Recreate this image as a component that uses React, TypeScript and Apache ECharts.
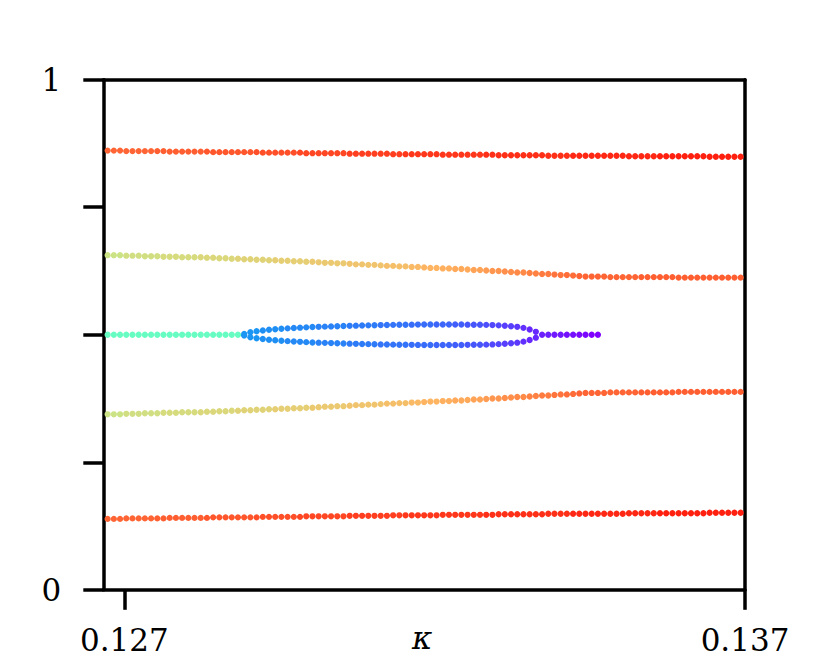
import React, { useEffect, useRef } from "react";
import * as echarts from "echarts";

// sampling grid of the parameter sweep (kappa)
const KAPPA_START = 0.12673;
const KAPPA_STEP = 0.0001;
const KAPPA_COUNT = 103;
const KAPPA: number[] = Array.from({ length: KAPPA_COUNT }, (_, i) =>
  +(KAPPA_START + KAPPA_STEP * i).toFixed(5)
);

const X_MIN = 0.12666;
const X_MAX = 0.137;
const X_TICKS = [0.127, 0.137];
const Y_LABELS = [0, 1];
const X_NAME = "κ";

// outer upper branch
const A_Y = [
  0.861, 0.861, 0.861,
  0.86, 0.86, 0.86, 0.86, 0.86, 0.86, 0.86,
  0.859, 0.859, 0.859, 0.859, 0.859, 0.859, 0.859,
  0.858, 0.858, 0.858, 0.858, 0.858, 0.858, 0.858, 0.858,
  0.857, 0.857, 0.857, 0.857, 0.857, 0.857, 0.857,
  0.856, 0.856, 0.856, 0.856, 0.856, 0.856, 0.856,
  0.855, 0.855, 0.855, 0.855, 0.855, 0.855, 0.855,
  0.854, 0.854, 0.854, 0.854, 0.854, 0.854, 0.854, 0.854,
  0.853, 0.853, 0.853, 0.853, 0.853, 0.853, 0.853, 0.853, 0.853,
  0.852, 0.852, 0.852, 0.852, 0.852, 0.852, 0.852, 0.852,
  0.851, 0.851, 0.851, 0.851, 0.851, 0.851, 0.851, 0.851, 0.851, 0.851, 0.851, 0.851, 0.851,
  0.85, 0.85, 0.85, 0.85, 0.85, 0.85, 0.85, 0.85, 0.85, 0.85, 0.85, 0.85, 0.85,
  0.849, 0.849, 0.849, 0.849, 0.849, 0.849,
];
// outer lower branch
const E_Y = [
  0.139, 0.139, 0.139,
  0.14, 0.14, 0.14, 0.14, 0.14, 0.14, 0.14,
  0.141, 0.141, 0.141, 0.141, 0.141, 0.141, 0.141,
  0.142, 0.142, 0.142, 0.142, 0.142, 0.142, 0.142, 0.142,
  0.143, 0.143, 0.143, 0.143, 0.143, 0.143, 0.143,
  0.144, 0.144, 0.144, 0.144, 0.144, 0.144, 0.144,
  0.145, 0.145, 0.145, 0.145, 0.145, 0.145, 0.145,
  0.146, 0.146, 0.146, 0.146, 0.146, 0.146, 0.146, 0.146,
  0.147, 0.147, 0.147, 0.147, 0.147, 0.147, 0.147, 0.147, 0.147,
  0.148, 0.148, 0.148, 0.148, 0.148, 0.148, 0.148, 0.148,
  0.149, 0.149, 0.149, 0.149, 0.149, 0.149, 0.149, 0.149, 0.149, 0.149, 0.149, 0.149, 0.149,
  0.15, 0.15, 0.15, 0.15, 0.15, 0.15, 0.15, 0.15, 0.15, 0.15, 0.15, 0.15, 0.15,
  0.151, 0.151, 0.151, 0.151, 0.151, 0.151,
];
// colour value of the outer branches
const OUTER_C = [
  0.87, 0.87, 0.87, 0.87, 0.87, 0.87, 0.87, 0.87,
  0.88, 0.88, 0.88, 0.88, 0.88, 0.88, 0.88, 0.88,
  0.89, 0.89, 0.89, 0.89, 0.89, 0.89, 0.89, 0.89,
  0.9, 0.9, 0.9, 0.9, 0.9, 0.9, 0.9,
  0.91, 0.91, 0.91, 0.91, 0.91, 0.91, 0.91, 0.91,
  0.92, 0.92, 0.92, 0.92, 0.92, 0.92, 0.92, 0.92, 0.92,
  0.93, 0.93, 0.93, 0.93, 0.93, 0.93, 0.93, 0.93, 0.93, 0.93, 0.93, 0.93, 0.93,
  0.94, 0.94, 0.94, 0.94, 0.94, 0.94, 0.94, 0.94, 0.94, 0.94, 0.94, 0.94, 0.94, 0.94,
  0.95, 0.95, 0.95, 0.95, 0.95, 0.95, 0.95, 0.95, 0.95, 0.95, 0.95, 0.95, 0.95, 0.95,
  0.96, 0.96, 0.96, 0.96, 0.96, 0.96, 0.96, 0.96, 0.96, 0.96, 0.96, 0.96, 0.96, 0.96,
];

// inner upper branch
const B_Y = [
  0.656, 0.656, 0.656, 0.655, 0.655, 0.655, 0.654, 0.654, 0.654, 0.653, 0.653, 0.653, 0.652, 0.652, 0.652,
  0.652, 0.651, 0.651, 0.65, 0.65, 0.649, 0.649, 0.648, 0.648, 0.647, 0.647, 0.646, 0.646, 0.645, 0.645, 0.644,
  0.644, 0.643, 0.643, 0.642, 0.641, 0.641, 0.64, 0.64, 0.639, 0.638, 0.638, 0.637, 0.637, 0.636, 0.635, 0.635, 0.634,
  0.634, 0.633, 0.633, 0.632, 0.631, 0.631, 0.63, 0.63, 0.629, 0.629, 0.628, 0.627, 0.627,
  0.626, 0.625, 0.625, 0.624, 0.623, 0.622, 0.622, 0.621, 0.62, 0.619, 0.619, 0.618, 0.617, 0.617, 0.616, 0.615,
  0.614, 0.614, 0.614, 0.614, 0.613,
  0.613, 0.613, 0.613, 0.613, 0.613, 0.613, 0.613, 0.613, 0.613, 0.613,
  0.612, 0.612, 0.612, 0.612, 0.612, 0.612, 0.612, 0.612, 0.612, 0.612, 0.612,
];
// inner lower branch
const D_Y = [
  0.344, 0.344, 0.344, 0.345, 0.345, 0.345, 0.346, 0.346, 0.346, 0.347, 0.347, 0.347, 0.348, 0.348, 0.348,
  0.348, 0.349, 0.349, 0.35, 0.35, 0.351, 0.351, 0.352, 0.352, 0.353, 0.353, 0.354, 0.354, 0.355, 0.355, 0.356,
  0.356, 0.357, 0.357, 0.358, 0.359, 0.359, 0.36, 0.36, 0.361, 0.362, 0.362, 0.363, 0.363, 0.364, 0.365, 0.365, 0.366,
  0.366, 0.367, 0.367, 0.368, 0.369, 0.369, 0.37, 0.37, 0.371, 0.371, 0.372, 0.373, 0.373,
  0.374, 0.375, 0.375, 0.376, 0.377, 0.378, 0.378, 0.379, 0.38, 0.381, 0.381, 0.382, 0.383, 0.383, 0.384, 0.385,
  0.386, 0.386, 0.386, 0.386, 0.387,
  0.387, 0.387, 0.387, 0.387, 0.387, 0.387, 0.387, 0.387, 0.387, 0.387,
  0.388, 0.388, 0.388, 0.388, 0.388, 0.388, 0.388, 0.388, 0.388, 0.388, 0.388,
];
// colour value of the inner branches
const INNER_C = [
  0.65, 0.65, 0.65, 0.66, 0.66, 0.66, 0.66, 0.66, 0.66, 0.67, 0.67, 0.67, 0.67, 0.67, 0.67,
  0.68, 0.68, 0.68, 0.68, 0.68, 0.68, 0.69, 0.69, 0.69, 0.69, 0.69, 0.69, 0.7, 0.7, 0.7, 0.7, 0.7, 0.7,
  0.71, 0.71, 0.71, 0.71, 0.71, 0.71, 0.72, 0.72, 0.72, 0.72, 0.72, 0.72, 0.73, 0.73, 0.73,
  0.73, 0.74, 0.74, 0.75, 0.75, 0.75, 0.76, 0.76, 0.77, 0.77, 0.77, 0.78, 0.78,
  0.79, 0.8, 0.8, 0.81, 0.81, 0.82, 0.82, 0.83,
  0.83, 0.84, 0.84, 0.85, 0.85, 0.86, 0.86, 0.87,
  0.87, 0.87, 0.87, 0.87, 0.87, 0.87, 0.87, 0.87, 0.87,
  0.88, 0.88, 0.88, 0.88, 0.88, 0.88, 0.88, 0.88, 0.88, 0.88, 0.88, 0.88, 0.88, 0.88, 0.88, 0.88, 0.88,
];

// middle branch before the split (grid index 0..21)
const MID_START = 0;
const MID_Y = [
  0.5, 0.5, 0.5, 0.5, 0.5, 0.5, 0.5, 0.5, 0.5, 0.5, 0.5,
  0.5, 0.5, 0.5, 0.5, 0.5, 0.5, 0.5, 0.5, 0.5, 0.5, 0.5,
];
const MID_C = [
  0.45, 0.45, 0.45, 0.45, 0.45, 0.45, 0.45, 0.45, 0.45, 0.45, 0.45,
  0.45, 0.45, 0.45, 0.45, 0.45, 0.45, 0.45, 0.45, 0.45, 0.45, 0.45,
];

// closed loop (grid index 22..69)
const LOOP_START = 22;
const LOOP_UP_Y = [
  0.5016, 0.5049, 0.5069, 0.5084, 0.5098, 0.5108, 0.5118, 0.5125, 0.5133, 0.5139, 0.5145, 0.5151,
  0.5155, 0.5159, 0.5163, 0.5167, 0.5171, 0.5175, 0.5178, 0.5182, 0.5184, 0.5187, 0.519, 0.5192,
  0.5194, 0.5196, 0.5197, 0.5198, 0.5199, 0.52, 0.52, 0.5201, 0.5201, 0.5201, 0.52, 0.52,
  0.5198, 0.5197, 0.5196, 0.5194, 0.519, 0.5184, 0.5176, 0.5167, 0.5155, 0.5135, 0.5102, 0.5057,
];
const LOOP_LO_Y = [
  0.4984, 0.4951, 0.4931, 0.4916, 0.4902, 0.4892, 0.4882, 0.4875, 0.4867, 0.4861, 0.4855, 0.4849,
  0.4845, 0.4841, 0.4837, 0.4833, 0.4829, 0.4825, 0.4822, 0.4818, 0.4816, 0.4813, 0.481, 0.4808,
  0.4806, 0.4804, 0.4803, 0.4802, 0.4801, 0.48, 0.48, 0.4799, 0.4799, 0.4799, 0.48, 0.48,
  0.4802, 0.4803, 0.4804, 0.4806, 0.481, 0.4816, 0.4824, 0.4833, 0.4845, 0.4865, 0.4898, 0.4943,
];
const LOOP_C = [
  0.2, 0.2, 0.2, 0.19, 0.19, 0.19, 0.19, 0.18, 0.18, 0.18, 0.18, 0.18,
  0.17, 0.17, 0.17, 0.17, 0.17, 0.16, 0.16, 0.16, 0.16, 0.16, 0.15, 0.15,
  0.15, 0.15, 0.15, 0.14, 0.14, 0.14, 0.14, 0.13, 0.13, 0.13, 0.12, 0.12,
  0.11, 0.11, 0.11, 0.1, 0.09, 0.09, 0.08, 0.08, 0.07, 0.06, 0.05, 0.05,
];

// middle branch after the loop (grid index 70..79)
const TAIL_START = 70;
const TAIL_Y = [0.5, 0.5, 0.5, 0.5, 0.5, 0.5, 0.5, 0.5, 0.5, 0.5];
const TAIL_C = [0.04, 0.04, 0.03, 0.03, 0.02, 0.02, 0.01, 0.01, 0.0, 0.0];

// matplotlib "rainbow" colormap
function rainbow(c: number): string {
  const cl = (v: number) => Math.round(255 * Math.max(0, Math.min(1, v)));
  const r = Math.abs(2 * c - 0.5);
  const g = Math.sin(Math.PI * c);
  const b = Math.cos((Math.PI * c) / 2);
  return `rgb(${cl(r)},${cl(g)},${cl(b)})`;
}

function points(start: number, ys: number[], cs: number[]) {
  return ys.map((y, j) => [KAPPA[start + j], y, cs[j]]);
}

const FONT = "DejaVu Serif";
const LINE = { color: "#000", width: 3.5 };

export default function App() {
  const ref = useRef<HTMLDivElement>(null);
  useEffect(() => {
    if (!ref.current) return;
    const chart = echarts.init(ref.current, undefined, { renderer: "svg" });
    const mk = (name: string, data: number[][]) => ({
      name,
      type: "scatter",
      data,
      symbol: "circle",
      symbolSize: 6.3,
      itemStyle: { color: (p: any) => rainbow(p.value[2]), opacity: 1 },
      silent: true,
    });
    chart.setOption({
      animation: false,
      backgroundColor: "#fff",
      grid: {
        left: 103.3,
        right: 829 - 745,
        top: 79.7,
        bottom: 663 - 589.8,
        containLabel: false,
        outerBoundsMode: "none",
      },
      graphic: [
        {
          type: "text",
          left: 412,
          top: 622,
          style: {
            text: X_NAME,
            fontFamily: FONT,
            fontStyle: "italic",
            fontSize: 31,
            fill: "#000",
          },
        },
      ],
      xAxis: [
        {
          type: "value",
          position: "bottom",
          min: X_MIN,
          max: X_MAX,
          axisLine: { show: true, onZero: false, lineStyle: LINE },
          axisTick: { show: true, length: 20, lineStyle: LINE, customValues: X_TICKS },
          axisLabel: {
            customValues: X_TICKS,
            formatter: (v: number) => String(v),
            margin: 50,
            verticalAlign: "middle",
            fontFamily: FONT,
            fontSize: 31,
            color: "#000",
          },
          splitLine: { show: false },
        },
        {
          type: "value",
          position: "top",
          min: X_MIN,
          max: X_MAX,
          axisLine: { show: true, onZero: false, lineStyle: LINE },
          axisTick: { show: false },
          axisLabel: { show: false },
          splitLine: { show: false },
        },
      ],
      yAxis: [
        {
          type: "value",
          position: "left",
          min: 0,
          max: 1,
          interval: 0.25,
          axisLine: { show: true, onZero: false, lineStyle: LINE },
          axisTick: { show: true, length: 20, lineStyle: LINE },
          axisLabel: {
            formatter: (v: number) => (Y_LABELS.includes(v) ? String(v) : ""),
            margin: 42,
            fontFamily: FONT,
            fontSize: 31,
            color: "#000",
          },
          splitLine: { show: false },
        },
        {
          type: "value",
          position: "right",
          min: 0,
          max: 1,
          axisLine: { show: true, onZero: false, lineStyle: LINE },
          axisTick: { show: false },
          axisLabel: { show: false },
          splitLine: { show: false },
        },
      ],
      series: [
        mk("outer upper", points(0, A_Y, OUTER_C)),
        mk("outer lower", points(0, E_Y, OUTER_C)),
        mk("inner upper", points(0, B_Y, INNER_C)),
        mk("inner lower", points(0, D_Y, INNER_C)),
        mk("middle", points(MID_START, MID_Y, MID_C)),
        mk("loop upper", points(LOOP_START, LOOP_UP_Y, LOOP_C)),
        mk("loop lower", points(LOOP_START, LOOP_LO_Y, LOOP_C)),
        mk("tail", points(TAIL_START, TAIL_Y, TAIL_C)),
      ],
    });
    return () => chart.dispose();
  }, []);
  return (
    <div
      ref={ref}
      style={{ position: "absolute", left: 0, top: 0, width: 829, height: 663, background: "#fff" }}
    />
  );
}
